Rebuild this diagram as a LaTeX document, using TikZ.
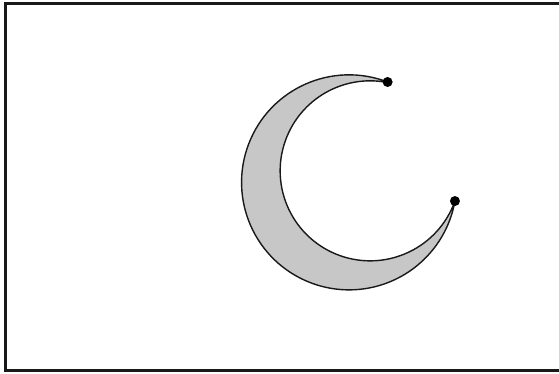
\documentclass[tikz,border=0pt]{standalone}
\begin{document}
\begin{tikzpicture}[x=1pt,y=-1pt,
  framestyle/.style={line width=3pt,draw=black!90},
  moon/.style={draw=black!90,line width=1.4pt,fill=black!22},
  tipdot/.style={circle,fill=black,inner sep=0pt,minimum size=10pt}]
\useasboundingbox (0,0) rectangle (559,374);
\begin{scope}
\clip (0,0) rectangle (559,374);
\draw[framestyle] (565,3.5) -- (5.5,3.5) -- (5.5,370) -- (565,370);
\end{scope}
\coordinate (T) at (387.6,82);
\path[moon] (T) arc[start angle=-69, end angle=-350, radius=107.5]
  coordinate (B)
  arc[start angle=19.6, end angle=280.5, radius=90] -- cycle;
\node[tipdot] (t) at (T) {};
\node[tipdot] (b) at (B) {};
\end{tikzpicture}
\end{document}
